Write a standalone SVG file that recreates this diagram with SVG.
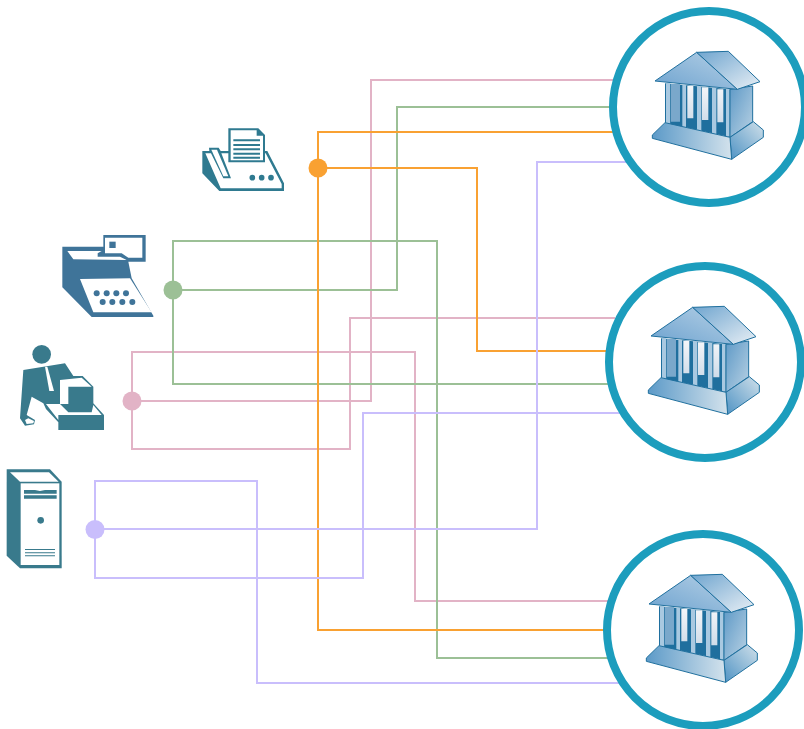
<svg xmlns="http://www.w3.org/2000/svg" width="804" height="729" viewBox="0 0 804 729">
<style>
.c{fill:none;stroke-width:2}
.pink{stroke:#e2b3c6}.green{stroke:#9cc096}.orange{stroke:#f9a132}.purple{stroke:#c9befc}
.ring{fill:#fff;stroke:#1c9dbd;stroke-width:8}
.tf{fill:#2f7a90}.bf{fill:#3f7499}.mf{fill:#397a8c}
.w{fill:#fff}
.ol{stroke:#1f6f9e;stroke-width:3;stroke-linejoin:round}
</style>
<defs>
<linearGradient id="gRoof" x1="0" y1="1" x2="1" y2="0"><stop offset="0" stop-color="#6ea3cf"/><stop offset="1" stop-color="#b5d0e6"/></linearGradient>
<linearGradient id="gRoofR" x1="0" y1="0" x2="1" y2="1"><stop offset="0" stop-color="#6fa5cf"/><stop offset="1" stop-color="#e8eff5"/></linearGradient>
<linearGradient id="gWall" x1="0" y1="0" x2="1" y2="1"><stop offset="0" stop-color="#5f9ac7"/><stop offset="1" stop-color="#b9d2e4"/></linearGradient>
<linearGradient id="gBase" x1="0" y1="0" x2="1" y2="0"><stop offset="0" stop-color="#5c9ac8"/><stop offset="1" stop-color="#d3e2ec"/></linearGradient>
<linearGradient id="gBaseR" x1="0" y1="1" x2="1" y2="0"><stop offset="0" stop-color="#4f93c4"/><stop offset="1" stop-color="#d0e0ea"/></linearGradient>
<linearGradient id="gWin" x1="0" y1="0" x2="0" y2="1"><stop offset="0" stop-color="#f4f6f9"/><stop offset="1" stop-color="#cfdce9"/></linearGradient>
<g id="bank" transform="translate(600 0) scale(.33333)">
<path d="M195 250L390 268V412L195 368Z" fill="#1f6f9e"/>
<path d="M212 252H240V380L212 373Z" fill="#7aa8cb"/>
<path d="M212 365H243V382L212 375Z" fill="#1f6f9e"/>
<path d="M262 258H280V355H262ZM306 262H325V360H306ZM352 268H370V367H352Z" fill="url(#gWin)"/>
<path d="M198 250H210V372L198 369ZM247 254H258V385L247 382ZM291 258H304V394L291 391ZM336 262H349V405L336 402ZM378 267H389V410L378 407Z" fill="#a9c9e1"/>
<path d="M390 268L458 258V365L390 412Z" fill="url(#gWall)" class="ol"/>
<path d="M390 412L460 365L490 390V412L395 478Z" fill="url(#gBaseR)" class="ol"/>
<path d="M157 405L195 368L390 412L395 478L157 415Z" fill="url(#gBase)" class="ol"/>
<path d="M165 243L290 157L412 268Z" fill="url(#gRoof)" class="ol"/>
<path d="M290 157L385 154L480 245L412 268Z" fill="url(#gRoofR)" class="ol"/>
</g>
</defs>
<rect width="804" height="729" fill="#fff"/>
<g id="connectors">
<path class="c pink" d="M132 401H371V80H620"/>
<path class="c pink" d="M132 401V352H415V601H615"/>
<path class="c pink" d="M132 401V449H350V318H615"/>
<path class="c green" d="M173 290H397V107H615"/>
<path class="c green" d="M173 290V241H437V658H620"/>
<path class="c green" d="M173 290V384H615"/>
<path class="c orange" d="M318 168H477V351H615"/>
<path class="c orange" d="M318 168V132H615"/>
<path class="c orange" d="M318 168V630H615"/>
<path class="c purple" d="M95 529H537V162H630"/>
<path class="c purple" d="M95 529V481H257V683H630"/>
<path class="c purple" d="M95 529V578H363V413H630"/>
</g>
<g id="dot-fax"><circle cx="318" cy="168" r="9.500" fill="#f9a132"/></g>
<g id="dot-typewriter"><circle cx="173" cy="290" r="9.500" fill="#9cc096"/></g>
<g id="dot-operator"><circle cx="132" cy="401" r="9.500" fill="#e2b3c6"/></g>
<g id="dot-server"><circle cx="95" cy="529.500" r="9.500" fill="#c9befc"/></g>
<g id="bank-1"><circle class="ring" cx="709" cy="107" r="96"/><use href="#bank"/></g>
<g id="bank-2"><circle class="ring" cx="705" cy="362" r="96"/><use href="#bank" transform="translate(-4 255)"/></g>
<g id="bank-3"><circle class="ring" cx="703" cy="630" r="96"/><use href="#bank" transform="translate(-6 523)"/></g>
<g id="fax" transform="translate(190 115) scale(.33333)">
<path class="tf" d="M37 108H58L57 98H86L92 108H232L282 205V228H88L37 175Z"/>
<path class="w" d="M46 115H63L100 190H123L94 115H227L275 207V220H92Z"/>
<path class="w" d="M64 104H81L115 184H100Z"/>
<path class="tf" d="M115 40H205L225 60V142H115Z"/>
<path class="w" d="M122 46H200V62H219V136H122Z"/>
<path class="tf" d="M130 73H210V79H130ZM130 87H210V93H130ZM130 100H210V106H130ZM130 113H210V119H130ZM130 125H210V131H130Z"/>
<circle class="tf" cx="187" cy="188" r="8.500"/><circle class="tf" cx="215" cy="188" r="8.500"/><circle class="tf" cx="243" cy="188" r="8.500"/>
</g>
<g id="typewriter" transform="translate(50 225) scale(.33333)">
<path class="bf" d="M37 65H160V30H287V110H235L245 160L310 272V276H125L37 187Z"/>
<path class="w" d="M165 38H277V98H235L215 85H165Z"/>
<rect class="bf" x="178" y="50" width="19" height="19"/>
<path class="w" d="M52 78H155L143 85V95H210L230 105L70 103Z"/>
<path class="w" d="M90 162L240 160L305 262H130Z"/>
<g class="bf"><circle cx="140" cy="205" r="9"/><circle cx="170" cy="205" r="9"/><circle cx="199" cy="205" r="9"/><circle cx="228" cy="205" r="9"/><circle cx="158" cy="231" r="9"/><circle cx="187" cy="231" r="9"/><circle cx="217" cy="231" r="9"/><circle cx="247" cy="231" r="9"/></g>
</g>
<g id="operator" transform="translate(10 335) scale(.33333)">
<circle class="mf" cx="95" cy="58" r="28"/>
<path class="mf" d="M40 105L165 85L190 123H218L250 155V205L282 240V285H145V262L108 222L100 205L65 185L50 240L75 255L72 268L45 272L30 250Z"/>
<path class="w" d="M105 95H112L132 168H118Z"/>
<path class="w" d="M150 135L215 128L245 155H175V207H150Z"/>
<path class="w" d="M108 207H150L175 232H245L250 210L275 240H145V255Z"/>
<path class="w" d="M45 255L55 250L72 258L70 265L50 267Z"/>
</g>
<g id="server" transform="translate(0 460) scale(.33333)">
<path class="mf" d="M20 28H150L185 65V325H60L20 287Z"/>
<path class="w" d="M30 37H147L176 65H60Z"/>
<rect class="w" x="62" y="70" width="116" height="245"/>
<path class="mf" d="M72 90H105L120 93L135 90H170V101H72ZM72 106H170V116H72Z"/>
<circle class="mf" cx="122" cy="181" r="10"/>
<path class="mf" d="M75 267H165V270H75ZM75 277H165V280H75ZM75 286H165V289H75Z"/>
</g>
</svg>
